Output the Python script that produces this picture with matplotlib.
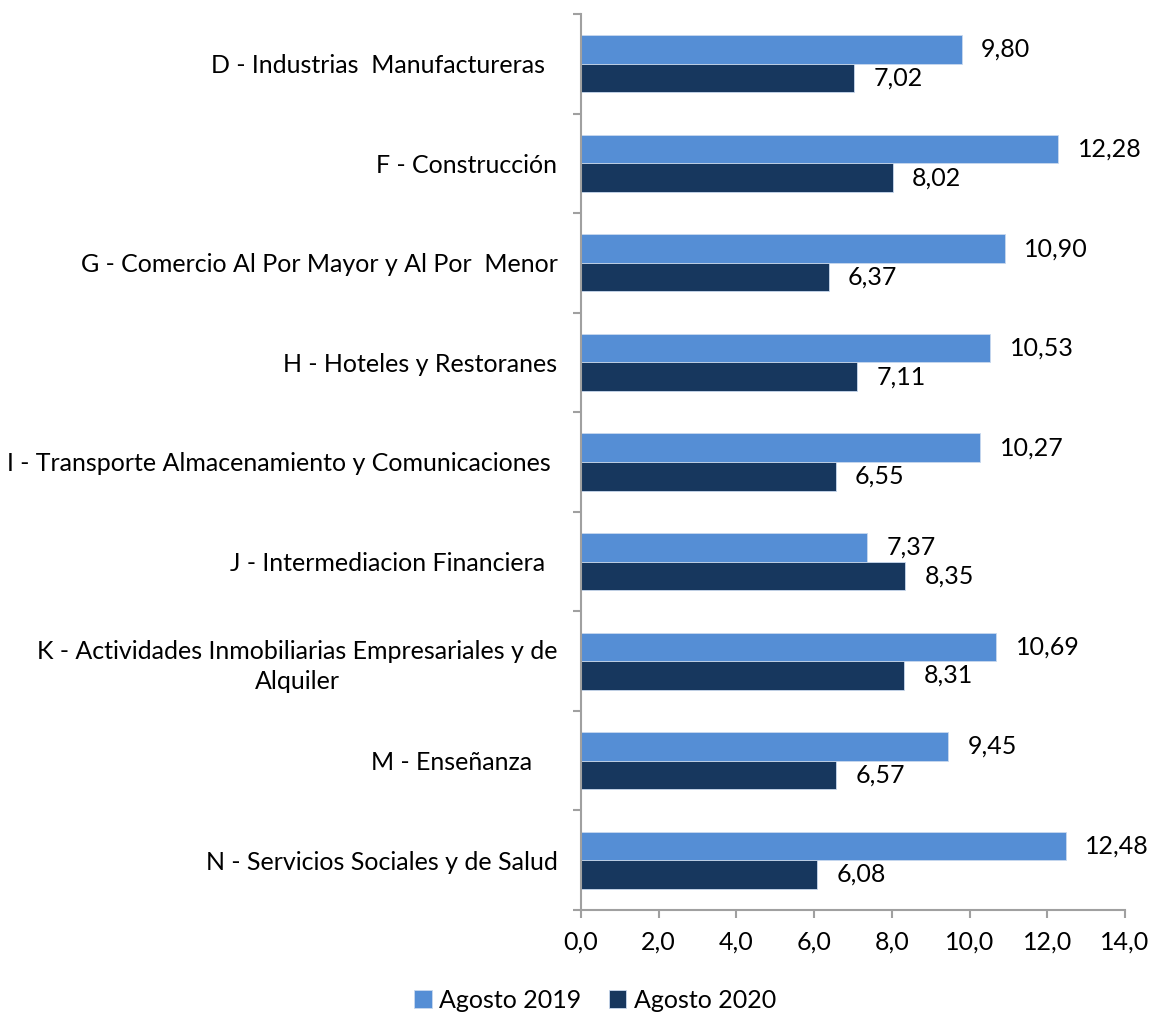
import matplotlib.pyplot as plt
from matplotlib.ticker import FuncFormatter
import numpy as np

# Data (top to bottom)
sectores = [
    "D - Industrias  Manufactureras  ",
    "F - Construcción",
    "G - Comercio Al Por Mayor y Al Por  Menor",
    "H - Hoteles y Restoranes",
    "I - Transporte Almacenamiento y Comunicaciones ",
    "J - Intermediacion Financiera  ",
    "K - Actividades Inmobiliarias Empresariales y de\nAlquiler",
    "M - Enseñanza    ",
    "N - Servicios Sociales y de Salud",
]
agosto_2019 = [9.80, 12.28, 10.90, 10.53, 10.27, 7.37, 10.69, 9.45, 12.48]
agosto_2020 = [7.02, 8.02, 6.37, 7.11, 6.55, 8.35, 8.31, 6.57, 6.08]
series_labels = ["Agosto 2019", "Agosto 2020"]
xticks = [0, 2, 4, 6, 8, 10, 12, 14]

color_2019 = "#558ED5"
color_2020 = "#17375E"
axis_grey = "#A0A0A0"

plt.rcParams['font.family'] = ['Lato', 'DejaVu Sans']
fs = 18

fig = plt.figure(figsize=(11.51, 10.14), dpi=100)
ax = fig.add_axes([0.5048, 0.1026, 0.4726, 0.8836])

y = np.arange(len(sectores))
h = 0.287
b1 = ax.barh(y - h / 2, agosto_2019, height=h, color=color_2019,
             edgecolor="#C9D9EE", linewidth=0.6, label=series_labels[0])
b2 = ax.barh(y + h / 2, agosto_2020, height=h, color=color_2020,
             edgecolor="#C9D9EE", linewidth=0.6, label=series_labels[1])

fmt = lambda v: f"{v:.2f}".replace(".", ",")
ax.bar_label(b1, labels=[fmt(v) for v in agosto_2019], padding=14, fontsize=fs)
ax.bar_label(b2, labels=[fmt(v) for v in agosto_2020], padding=14, fontsize=fs)

ax.set_xlim(0, 14)
ax.set_ylim(len(sectores) - 0.5, -0.5)
ax.set_xticks(xticks)
ax.xaxis.set_major_formatter(FuncFormatter(lambda v, p: f"{v:.1f}".replace(".", ",")))

ax.set_yticks(y)
ax.set_yticklabels(sectores, multialignment="center", linespacing=1.35)
ax.set_yticks(np.arange(len(sectores) + 1) - 0.5, minor=True)
ax.tick_params(axis="y", which="major", length=0, pad=17, labelsize=fs)
ax.tick_params(axis="y", which="minor", length=6, width=1.5, color=axis_grey)
ax.tick_params(axis="x", length=6, width=1.5, color=axis_grey, labelsize=fs, pad=9)

for s in ["top", "right"]:
    ax.spines[s].set_visible(False)
for s in ["left", "bottom"]:
    ax.spines[s].set_color(axis_grey)
    ax.spines[s].set_linewidth(1.5)

fig.legend(handles=[b1, b2], labels=series_labels, loc="center",
           bbox_to_anchor=(0.517, 0.0138), ncol=2, frameon=False, fontsize=fs,
           handlelength=0.7, handleheight=0.7, handletextpad=0.3,
           columnspacing=1.1)

fig.savefig("out.png", dpi=100)
